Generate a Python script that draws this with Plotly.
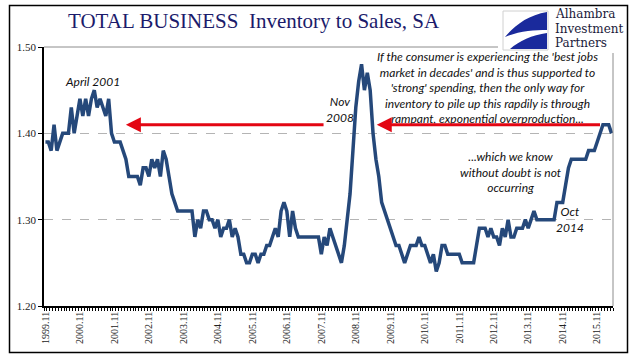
import plotly.graph_objects as go

# ---------------- data ----------------
ratio = [
    1.39, 1.39, 1.38, 1.41, 1.38, 1.39, 1.40, 1.40, 1.40, 1.43,
    1.40, 1.42, 1.44, 1.42, 1.44, 1.42, 1.44, 1.45, 1.43, 1.44,
    1.43, 1.42, 1.44, 1.40, 1.39, 1.39, 1.39, 1.38, 1.37, 1.35,
    1.35, 1.35, 1.35, 1.34, 1.36, 1.36, 1.35, 1.37, 1.36, 1.37,
    1.35, 1.38, 1.37, 1.35, 1.33, 1.32, 1.31, 1.31, 1.31, 1.31,
    1.31, 1.31, 1.28, 1.30, 1.29, 1.31, 1.31, 1.30, 1.30, 1.29,
    1.30, 1.28, 1.29, 1.29, 1.30, 1.28, 1.29, 1.28, 1.26, 1.26,
    1.25, 1.25, 1.26, 1.26, 1.25, 1.26, 1.26, 1.27, 1.27, 1.28,
    1.29, 1.28, 1.31, 1.32, 1.31, 1.28, 1.31, 1.29, 1.28, 1.28,
    1.28, 1.28, 1.28, 1.28, 1.28, 1.28, 1.26, 1.28, 1.27, 1.29,
    1.28, 1.27, 1.26, 1.25, 1.27, 1.30, 1.33, 1.38, 1.43, 1.46,
    1.48, 1.45, 1.47, 1.45, 1.40, 1.37, 1.35, 1.32, 1.31, 1.30,
    1.29, 1.28, 1.27, 1.27, 1.26, 1.25, 1.26, 1.27, 1.27, 1.27,
    1.28, 1.27, 1.27, 1.26, 1.25, 1.26, 1.24, 1.25, 1.27, 1.27,
    1.26, 1.26, 1.26, 1.26, 1.26, 1.25, 1.25, 1.25, 1.25, 1.25,
    1.27, 1.29, 1.29, 1.29, 1.28, 1.29, 1.28, 1.28, 1.27, 1.29,
    1.28, 1.30, 1.28, 1.28, 1.29, 1.29, 1.29, 1.30, 1.29, 1.30,
    1.31, 1.30, 1.30, 1.30, 1.30, 1.30, 1.30, 1.30, 1.32, 1.32,
    1.32, 1.34, 1.36, 1.37, 1.37, 1.37, 1.37, 1.37, 1.37, 1.38,
    1.38, 1.38, 1.39, 1.40, 1.41, 1.41, 1.41, 1.40,
]
months = list(range(len(ratio)))  # monthly index starting 1999.11

tick_labels = ["1999.11", "2000.11", "2001.11", "2002.11", "2003.11", "2004.11",
               "2005.11", "2006.11", "2007.11", "2008.11", "2009.11", "2010.11",
               "2011.11", "2012.11", "2013.11", "2014.11", "2015.11"]
tick_positions = [12 * i for i in range(len(tick_labels))]

y_ticks = [1.20, 1.30, 1.40, 1.50]
y_tick_labels = ["1.20", "1.30", "1.40", "1.50"]

# ---------------- layout helpers (pixel -> paper) ----------------
W, H = 641, 358
L, R, T, B = 44, 613, 47, 306


def px(x):
    return (x - L) / (R - L)


def py(y):
    return (B - y) / (B - T)


LINE_COLOR = "#25487A"
RED = "#E30613"
NAVY = "#1B1B6B"

fig = go.Figure()
fig.add_trace(go.Scatter(
    x=months, y=ratio, mode="lines",
    line=dict(color=LINE_COLOR, width=3.5),
    hoverinfo="skip", showlegend=False,
))

shapes = []
# outer black frame
shapes.append(dict(type="rect", xref="paper", yref="paper",
                   x0=px(9.5), x1=px(627.5), y0=py(352.5), y1=py(5.5),
                   line=dict(color="black", width=1.5), fillcolor="rgba(0,0,0,0)", layer="above"))
# plot area top (1.50) and right border, solid gray
shapes.append(dict(type="line", xref="paper", yref="paper", x0=0, x1=1, y0=1, y1=1,
                   line=dict(color="#8c8c8c", width=1), layer="above"))
shapes.append(dict(type="line", xref="paper", yref="paper", x0=1, x1=1, y0=0, y1=1,
                   line=dict(color="#8c8c8c", width=1), layer="above"))
# logo white background (covers top-right of plot border)
shapes.append(dict(type="rect", xref="paper", yref="paper",
                   x0=px(498), x1=px(626), y0=py(53), y1=py(8),
                   line=dict(width=0), fillcolor="white", layer="above"))
# logo square
shapes.append(dict(type="rect", xref="paper", yref="paper",
                   x0=px(503), x1=px(548), y0=py(50), y1=py(11),
                   line=dict(color="#d0d0d0", width=1), fillcolor="white", layer="above"))


def path_px(pts):
    s = ""
    for cmd, coords in pts:
        s += cmd
        s += " ".join(f"{px(coords[i]):.5f},{py(coords[i + 1]):.5f}" for i in range(0, len(coords), 2))
        s += " "
    return s + "Z"


swoosh_top = path_px([("M", (547, 12)), ("L", (547, 30)),
                      ("C", (534, 30, 519, 31, 505, 37)),
                      ("C", (514, 26, 528, 15, 547, 12))])
swoosh_bot = path_px([("M", (547, 33)), ("L", (547, 49)), ("L", (510, 49)),
                      ("C", (519, 41, 532, 35, 547, 33))])
shapes.append(dict(type="path", xref="paper", yref="paper", path=swoosh_top,
                   fillcolor="#1a2a9c", line=dict(width=0), layer="above"))
shapes.append(dict(type="path", xref="paper", yref="paper", path=swoosh_bot,
                   fillcolor="#1a2a9c", line=dict(width=0), layer="above"))

ann = []
# title
ann.append(dict(xref="paper", yref="paper", x=px(66), y=py(21), xanchor="left", yanchor="middle",
                text="TOTAL BUSINESS\u00a0 Inventory to Sales, SA", showarrow=False,
                font=dict(family="Liberation Serif", size=21, color=NAVY)))
# logo text
for t, yy in [("Alhambra", 14.5), ("Investment", 29), ("Partners", 43.5)]:
    ann.append(dict(xref="paper", yref="paper", x=px(553), y=py(yy), xanchor="left", yanchor="middle",
                    text=t, showarrow=False,
                    font=dict(family="DejaVu Serif", size=12, color="#1a1a3a")))

ital = dict(family="Lato", size=12, color="#111111")
ann.append(dict(xref="paper", yref="paper", x=px(92), y=py(81), xanchor="center", yanchor="middle",
                text="<i>April 2001</i>", showarrow=False, font=ital))
ann.append(dict(xref="paper", yref="paper", x=px(340), y=py(110), xanchor="center", yanchor="middle",
                text="<i>Nov<br>2008</i>", showarrow=False, font=ital))
ann.append(dict(xref="paper", yref="paper", x=px(487), y=py(87), xanchor="center", yanchor="middle",
                text="<i>If the consumer is experiencing the 'best jobs<br>market in decades' and is thus supported to<br>"
                     "'strong' spending, then the only way for<br>inventory to pile up this rapdily is through<br>"
                     "rampant, exponential overproduction...</i>",
                showarrow=False, font=ital))
ann.append(dict(xref="paper", yref="paper", x=px(511), y=py(172), xanchor="center", yanchor="middle",
                text="<i>...which we know<br>without doubt is not<br>occurring</i>", showarrow=False, font=ital))
ann.append(dict(xref="paper", yref="paper", x=px(570), y=py(219), xanchor="center", yanchor="middle",
                text="<i>Oct<br>2014</i>", showarrow=False, font=ital))

# red arrows (head at x, tail at ax), level 1.41
arrow_level = 1.41
for head, tail in [(28.0, 97.3), (115.3, 193.5)]:
    ann.append(dict(x=head, y=arrow_level, ax=tail, ay=arrow_level, xref="x", yref="y",
                    axref="x", ayref="y", text="", showarrow=True,
                    arrowhead=2, arrowsize=1.0, arrowwidth=3, arrowcolor=RED))

fig.update_layout(
    width=W, height=H,
    margin=dict(l=L, r=W - R, t=T, b=H - B),
    paper_bgcolor="white", plot_bgcolor="white",
    shapes=shapes, annotations=ann,
    xaxis=dict(range=[-0.5, len(ratio) - 0.5], tickmode="array", tickvals=tick_positions,
               ticktext=tick_labels, tickangle=-90, ticks="", showgrid=False, zeroline=False,
               showline=True, linecolor="black", linewidth=1.5,
               tickfont=dict(family="Liberation Serif", size=10, color="#222"),
               minor=dict(ticks="outside", tickmode="linear", tick0=-0.5, dtick=1,
                          ticklen=3, tickwidth=1, tickcolor="black", showgrid=False)),
    yaxis=dict(range=[1.20, 1.50], tickmode="array", tickvals=y_ticks, ticktext=y_tick_labels,
               ticks="outside", ticklen=4, tickcolor="black", showline=True, linecolor="black",
               linewidth=1.5, showgrid=True, gridcolor="#b4b4b4", griddash="dash", gridwidth=1,
               zeroline=False, tickfont=dict(family="Liberation Serif", size=11, color="#222")),
)

fig.write_html("out.html", config={"displayModeBar": False},
               post_script="document.body.style.margin='0px';")
